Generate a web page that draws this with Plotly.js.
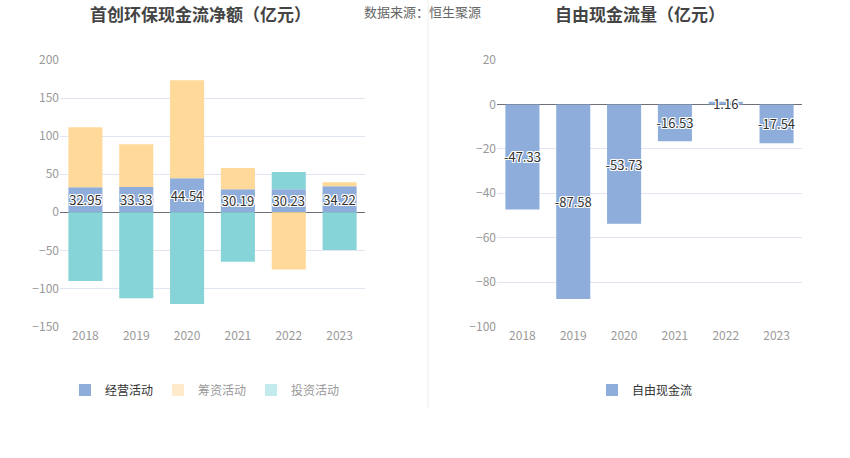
<!DOCTYPE html>
<html>
<head>
<meta charset="utf-8">
<script src="https://cdn.plot.ly/plotly-3.0.1.min.js"></script>
<style>html,body{margin:0;padding:0;background:#fff;}#chart{width:850px;height:458px;}</style>
</head>
<body>
<div id="chart"></div>
<script>
const years = ['2018', '2019', '2020', '2021', '2022', '2023'];
const operating = [32.95, 33.33, 44.54, 30.19, 30.23, 34.22];
const financing = [78.7, 56.1, 128.8, 28.1, -75.3, 5.3];
const investing = [-90.2, -112.9, -120.3, -64.8, 22.8, -49.5];
const freeCashFlow = [-47.33, -87.58, -53.73, -16.53, 1.16, -17.54];
const leftTicks = [-150, -100, -50, 0, 50, 100, 150, 200];
const rightTicks = [-100, -80, -60, -40, -20, 0, 20];

const cBlue = '#8FADDB', cOrange = '#FFD999', cTeal = '#86D4D8';
const FONT = '"Noto Sans CJK SC", "Noto Sans", sans-serif';
const labelFont = {family: FONT, size: 13, color: '#333',
  shadow: '1px 1px 0 #fff, -1px -1px 0 #fff, 1px -1px 0 #fff, -1px 1px 0 #fff, 0 1px 0 #fff, 0 -1px 0 #fff, 1px 0 0 #fff, -1px 0 0 #fff'};

const fmt = v => v.toFixed(2);

const traces = [
  {type: 'bar', x: years, y: operating, name: '经营活动', marker: {color: cBlue},
   text: operating.map(fmt), textposition: 'inside', insidetextanchor: 'middle',
   constraintext: 'none', textangle: 0, textfont: labelFont, showlegend: false,
   xaxis: 'x', yaxis: 'y', hoverinfo: 'x+y'},
  {type: 'bar', x: years, y: financing, name: '筹资活动', marker: {color: cOrange},
   showlegend: false, xaxis: 'x', yaxis: 'y', hoverinfo: 'x+y'},
  {type: 'bar', x: years, y: investing, name: '投资活动', marker: {color: cTeal},
   showlegend: false, xaxis: 'x', yaxis: 'y', hoverinfo: 'x+y'},
  // legend entries
  {type: 'bar', x: [years[0]], y: [null], name: '经营活动', marker: {color: cBlue}, legend: 'legend', xaxis: 'x', yaxis: 'y'},
  {type: 'bar', x: [years[0]], y: [null], name: '<span style="color:#999">筹资活动</span>', marker: {color: '#FFEBCC'}, legend: 'legend', xaxis: 'x', yaxis: 'y'},
  {type: 'bar', x: [years[0]], y: [null], name: '<span style="color:#999">投资活动</span>', marker: {color: '#C3EAEC'}, legend: 'legend', xaxis: 'x', yaxis: 'y'},
  {type: 'bar', x: years, y: freeCashFlow, name: '自由现金流', marker: {color: cBlue},
   text: freeCashFlow.map(fmt), textposition: 'inside', insidetextanchor: 'middle',
   constraintext: 'none', textangle: 0, textfont: labelFont, legend: 'legend2',
   xaxis: 'x2', yaxis: 'y2', hoverinfo: 'x+y'}
];

const yCommon = {
  gridcolor: '#E0E6F1', gridwidth: 1, zeroline: true, zerolinecolor: '#6E7079', zerolinewidth: 1,
  tickfont: {family: FONT, size: 12, color: '#999'}, showline: false, ticks: '', ticklen: 0,
  fixedrange: true, automargin: false
};
const xCommon = {
  type: 'category', showgrid: false, showline: false, ticks: '', zeroline: false,
  tickfont: {family: FONT, size: 12, color: '#999'}, fixedrange: true, automargin: false
};

const layout = {
  width: 850, height: 458,
  margin: {l: 0, r: 0, t: 0, b: 0},
  paper_bgcolor: '#fff', plot_bgcolor: '#fff',
  barmode: 'relative', bargap: 0.33,
  showlegend: true,
  font: {family: FONT},
  xaxis: Object.assign({}, xCommon, {domain: [60/850, 365/850], anchor: 'y'}),
  yaxis: Object.assign({}, yCommon, {domain: [1 - 326.5/458, 1 - 60/458], range: [-150, 200], tickvals: leftTicks, anchor: 'x'}),
  xaxis2: Object.assign({}, xCommon, {domain: [497/850, 802/850], anchor: 'y2'}),
  yaxis2: Object.assign({}, yCommon, {domain: [1 - 326.5/458, 1 - 60/458], range: [-100, 20], tickvals: rightTicks, anchor: 'x2'}),
  legend: {orientation: 'h', x: 205/850, xanchor: 'center', y: 1 - 390/458, yanchor: 'middle',
    font: {family: FONT, size: 12, color: '#333'}, itemclick: false, itemdoubleclick: false, bgcolor: 'rgba(0,0,0,0)'},
  legend2: {orientation: 'h', x: 645/850, xanchor: 'center', y: 1 - 390/458, yanchor: 'middle',
    font: {family: FONT, size: 12, color: '#333'}, itemclick: false, itemdoubleclick: false, bgcolor: 'rgba(0,0,0,0)'},
  shapes: [
    {type: 'line', xref: 'paper', yref: 'paper', x0: 428/850, x1: 428/850, y0: 1 - 408/458, y1: 1,
     line: {color: '#EEEEEE', width: 1}}
  ],
  annotations: [
    {xref: 'paper', yref: 'paper', x: 200/850, y: 1 - 14/458, xanchor: 'center', yanchor: 'middle',
     text: '<b>首创环保现金流净额（亿元）</b>', showarrow: false, font: {family: FONT, size: 17, color: '#444'}},
    {xref: 'paper', yref: 'paper', x: 362/850, y: 1 - 12/458, xanchor: 'left', yanchor: 'middle',
     text: '数据来源：恒生聚源', showarrow: false, font: {family: FONT, size: 13, color: '#666'}},
    {xref: 'paper', yref: 'paper', x: 640/850, y: 1 - 14/458, xanchor: 'center', yanchor: 'middle',
     text: '<b>自由现金流量（亿元）</b>', showarrow: false, font: {family: FONT, size: 17, color: '#444'}}
  ]
};

Plotly.newPlot('chart', traces, layout, {displayModeBar: false, staticPlot: true});
</script>
</body>
</html>
